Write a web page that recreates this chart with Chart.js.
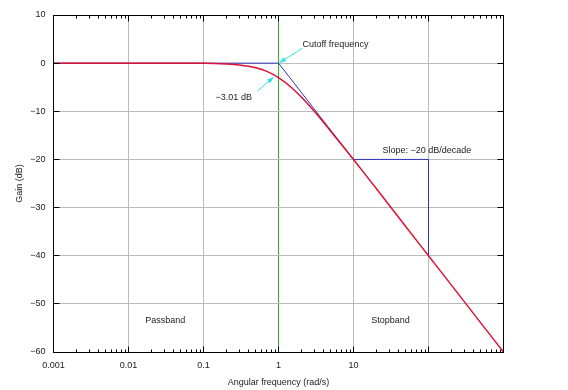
<!DOCTYPE html>
<html>
<head>
<meta charset="utf-8">
<script src="https://cdn.jsdelivr.net/npm/chart.js@4"></script>
<style>
html, body { margin: 0; padding: 0; background: #fff; }
#wrap { width: 568px; height: 390px; }
</style>
</head>
<body>
<div id="wrap"><canvas id="bode"></canvas></div>
<script>
// red response curve
const freq   = [0.001, 0.01, 0.1, 0.2, 0.3, 0.5, 0.7, 1, 1.5, 2, 3, 5, 7, 10, 20, 50, 100, 200, 500, 1000];
const gainDb = [0, 0, -0.04, -0.17, -0.37, -0.97, -1.7, -3.01, -5.1, -7, -10, -14.2, -17, -20, -26, -34, -40, -46, -54, -60];

// blue asymptote + slope marker
const asymFreq  = [0.001, 1, 10];
const asymDb    = [0, 0, -20];
const slopeFreq = [10, 100, 100];
const slopeDb   = [-20, -20, -40];

// ticks
const xTicks      = [0.001, 0.01, 0.1, 1, 10, 100, 1000];
const xTickLabels = ['0.001', '0.01', '0.1', '1', '10', '', ''];
const yTicks      = [10, 0, -10, -20, -30, -40, -50, -60];
const cutoff      = 1;   // green grid line

// text notes: [text, freq, dB, align]
const notes = [
    ['Cutoff frequency', 2.09, 3.9, 'left'],
    ['\u22123.01 dB', 0.145, -7.1, 'left'],
    ['Slope: \u221220 dB/decade', 24.4, -18.1, 'left'],
    ['Passband', 0.031, -53.5, 'center'],
    ['Stopband', 31.1, -53.5, 'center']
];
// cyan arrows: [fromFreq, fromDb, toFreq, toDb]
const arrows = [
    [2.09, 3.1, 1.03, 0.1],
    [0.525, -5.8, 0.86, -2.9]
];

const FONT = '"Liberation Sans", Arial, sans-serif';

function pts(xs, ys) {
    return xs.map((x, i) => ({ x: x, y: ys[i] }));
}

function fmtMinus(v) {
    return v < 0 ? '\u2212' + Math.abs(v) : String(v);
}

const framePlugin = {
    id: 'frame',
    afterDatasetsDraw(chart) {
        const ctx = chart.ctx;
        const a = chart.chartArea;
        const xs = chart.scales.x;
        const ys = chart.scales.y;
        ctx.save();
        ctx.strokeStyle = '#000';
        ctx.lineWidth = 1;
        const L = Math.floor(a.left) + 0.5, R = Math.floor(a.right) + 0.5;
        const T = Math.floor(a.top) + 0.5, B = Math.floor(a.bottom) + 0.5;
        ctx.strokeRect(L, T, R - L, B - T);

        // ticks drawn inward
        ctx.beginPath();
        for (let d = 0; d < xTicks.length; d++) {
            const base = xTicks[d];
            const px = Math.floor(xs.getPixelForValue(base)) + 0.5;
            ctx.moveTo(px, T); ctx.lineTo(px, T + 6);
            ctx.moveTo(px, B); ctx.lineTo(px, B - 6);
            if (d === xTicks.length - 1) break;
            for (let m = 2; m <= 9; m++) {
                const mx = Math.floor(xs.getPixelForValue(base * m)) + 0.5;
                ctx.moveTo(mx, T); ctx.lineTo(mx, T + 3);
                ctx.moveTo(mx, B); ctx.lineTo(mx, B - 3);
            }
        }
        yTicks.forEach(v => {
            const py = Math.floor(ys.getPixelForValue(v)) + 0.5;
            ctx.moveTo(L, py); ctx.lineTo(L + 6, py);
            ctx.moveTo(R, py); ctx.lineTo(R - 6, py);
        });
        ctx.stroke();

        // arrows
        ctx.strokeStyle = '#33e0e8';
        ctx.fillStyle = '#33e0e8';
        arrows.forEach(ar => {
            const x1 = xs.getPixelForValue(ar[0]), y1 = ys.getPixelForValue(ar[1]);
            const x2 = xs.getPixelForValue(ar[2]), y2 = ys.getPixelForValue(ar[3]);
            const ang = Math.atan2(y2 - y1, x2 - x1);
            ctx.beginPath();
            ctx.moveTo(x1, y1); ctx.lineTo(x2, y2);
            ctx.stroke();
            ctx.beginPath();
            ctx.moveTo(x2, y2);
            ctx.lineTo(x2 - 7 * Math.cos(ang - 0.35), y2 - 7 * Math.sin(ang - 0.35));
            ctx.lineTo(x2 - 7 * Math.cos(ang + 0.35), y2 - 7 * Math.sin(ang + 0.35));
            ctx.closePath();
            ctx.fill();
        });

        // notes
        ctx.fillStyle = '#222';
        ctx.font = '9px ' + FONT;
        ctx.textBaseline = 'middle';
        notes.forEach(n => {
            ctx.textAlign = n[3];
            ctx.fillText(n[0], xs.getPixelForValue(n[1]), ys.getPixelForValue(n[2]));
        });
        ctx.restore();
    }
};

new Chart(document.getElementById('bode'), {
    type: 'line',
    data: {
        datasets: [
            {
                data: pts(freq, gainDb),
                borderColor: '#dd1133',
                borderWidth: 1.5,
                pointRadius: 0,
                cubicInterpolationMode: 'monotone',
                order: 0
            },
            {
                data: pts(asymFreq, asymDb),
                borderColor: '#3333bb',
                borderWidth: 1,
                pointRadius: 0,
                order: 1
            },
            {
                data: pts(slopeFreq, slopeDb),
                borderColor: '#3333bb',
                borderWidth: 1,
                pointRadius: 0,
                order: 1
            }
        ]
    },
    options: {
        responsive: true,
        maintainAspectRatio: false,
        animation: false,
        layout: { padding: { top: 15, right: 64.5, left: 0, bottom: 0 } },
        plugins: {
            legend: { display: false },
            tooltip: { enabled: false }
        },
        scales: {
            x: {
                type: 'logarithmic',
                min: 0.001,
                max: 1000,
                afterBuildTicks: s => { s.ticks = xTicks.map(v => ({ value: v })); },
                afterFit: s => { s.height = 38; },
                grid: {
                    drawTicks: false,
                    color: c => (c.tick && c.tick.value === cutoff) ? '#22bb22' : '#bbbbbb'
                },
                border: { display: false },
                ticks: {
                    autoSkip: false,
                    maxRotation: 0,
                    padding: 8,
                    color: '#222',
                    font: { family: FONT, size: 9 },
                    callback: (v, i) => xTickLabels[i]
                },
                title: {
                    display: true,
                    text: 'Angular frequency (rad/s)',
                    color: '#222',
                    font: { family: FONT, size: 9 },
                    padding: { top: 0, bottom: 2 }
                }
            },
            y: {
                min: -60,
                max: 10,
                afterBuildTicks: s => { s.ticks = yTicks.map(v => ({ value: v })); },
                afterFit: s => { s.width = 53.5; },
                grid: { color: '#bbbbbb', drawTicks: false },
                border: { display: false },
                ticks: {
                    padding: 8,
                    color: '#222',
                    font: { family: FONT, size: 9 },
                    callback: v => fmtMinus(v)
                },
                title: {
                    display: true,
                    text: 'Gain (dB)',
                    color: '#222',
                    font: { family: FONT, size: 9 },
                    padding: { top: 14, bottom: 0 }
                }
            }
        }
    },
    plugins: [framePlugin]
});
</script>
</body>
</html>
